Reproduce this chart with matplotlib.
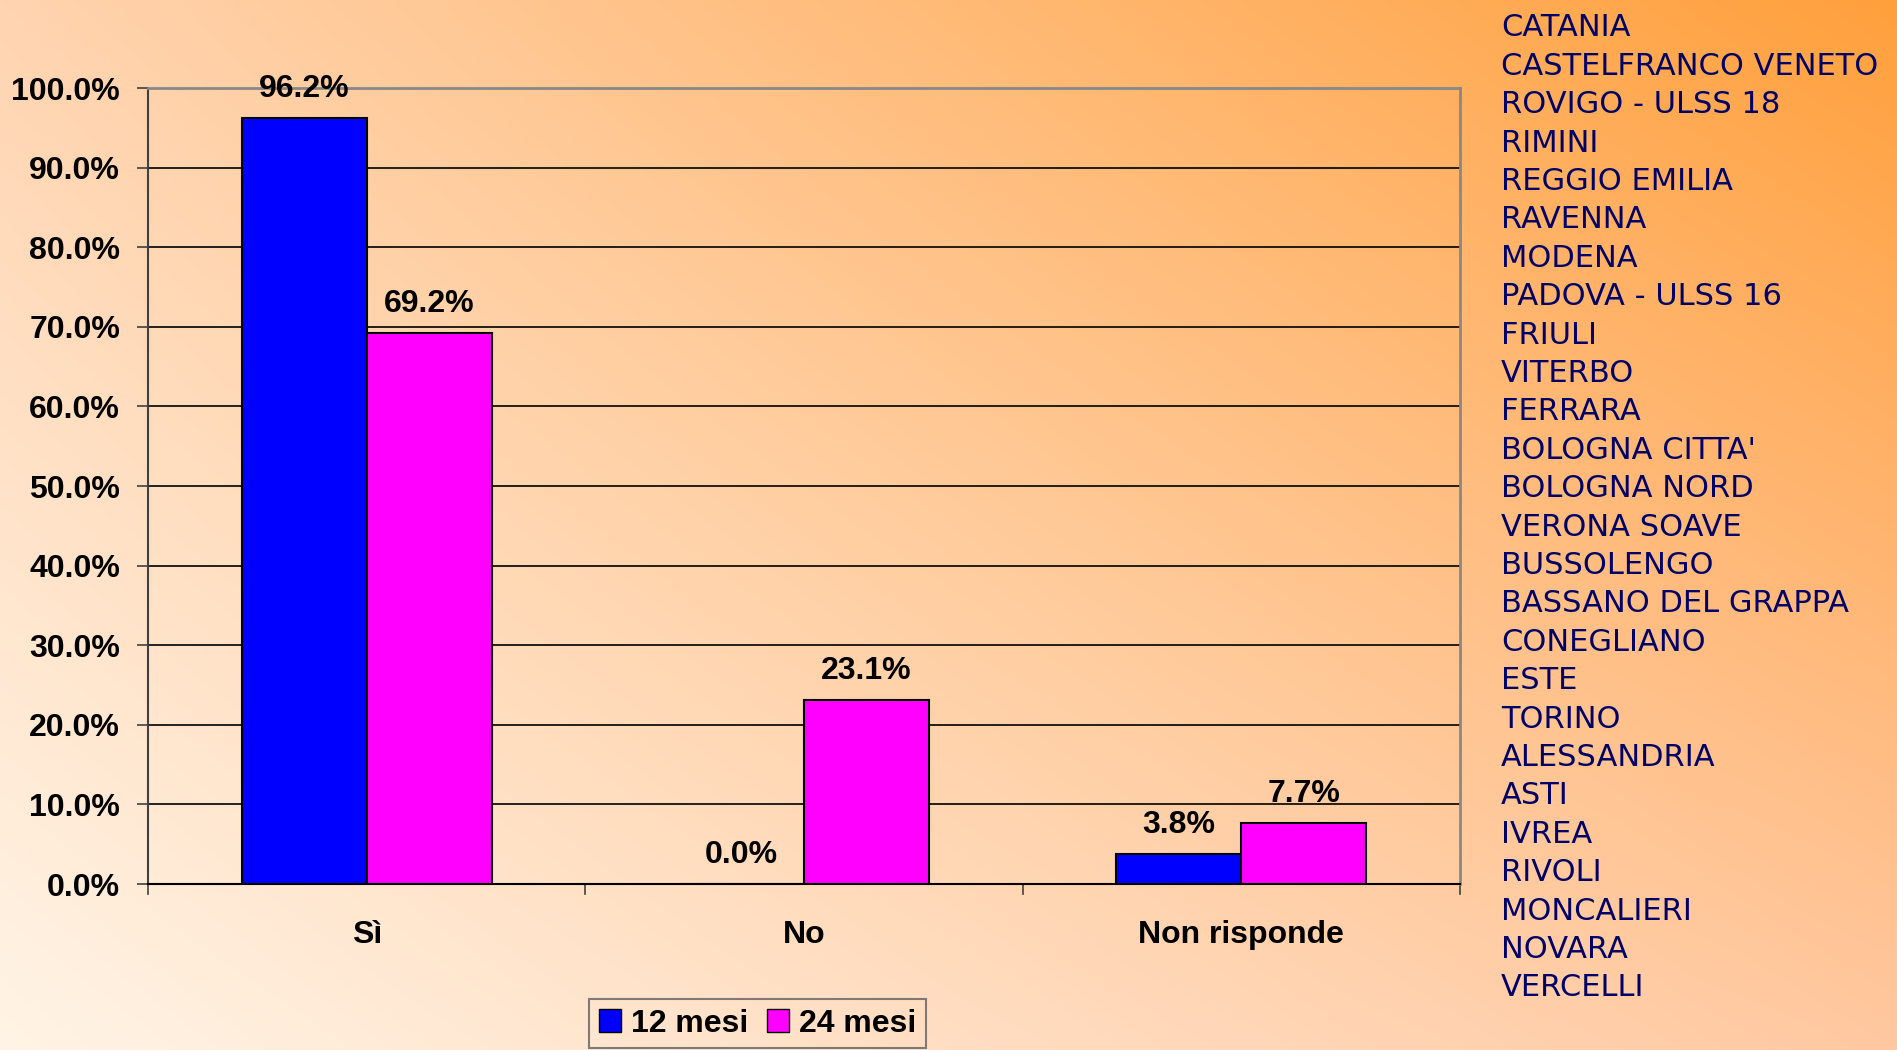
import numpy as np
import matplotlib.pyplot as plt
from matplotlib.patches import Patch

categories = ["Sì", "No", "Non risponde"]
mesi_12 = [96.2, 0.0, 3.8]
mesi_24 = [69.2, 23.1, 7.7]
series_names = ["12 mesi", "24 mesi"]
yticks = [0, 10, 20, 30, 40, 50, 60, 70, 80, 90, 100]

centri = ["CATANIA", "CASTELFRANCO VENETO", "ROVIGO - ULSS 18", "RIMINI",
          "REGGIO EMILIA", "RAVENNA", "MODENA", "PADOVA - ULSS 16", "FRIULI",
          "VITERBO", "FERRARA", "BOLOGNA CITTA'", "BOLOGNA NORD", "VERONA SOAVE",
          "BUSSOLENGO", "BASSANO DEL GRAPPA", "CONEGLIANO", "ESTE", "TORINO",
          "ALESSANDRIA", "ASTI", "IVREA", "RIVOLI", "MONCALIERI", "NOVARA",
          "VERCELLI"]

BLUE = "#0000FF"
MAGENTA = "#FF00FF"
NAVY = "#000066"
FS = 23

plt.rcParams["font.family"] = ["Liberation Sans", "DejaVu Sans"]

W, H = 1897, 1050
fig = plt.figure(figsize=(W / 100, H / 100), dpi=100)

# background: four-corner gradient
tl = np.array([255, 212, 176]) / 255
tr = np.array([255, 160, 60]) / 255
bl = np.array([255, 244, 230]) / 255
br = np.array([255, 200, 160]) / 255
u = np.linspace(0, 1, 400)[None, :, None]
v = np.linspace(0, 1, 220)[:, None, None]
top = tl * (1 - u) + tr * u
bot = bl * (1 - u) + br * u
grad = top * (1 - v) + bot * v
bg = fig.add_axes([0, 0, 1, 1])
bg.imshow(grad, aspect="auto", extent=[0, 1, 0, 1], interpolation="bilinear")
bg.axis("off")

ax = fig.add_axes([148 / W, 1 - 884 / H, (1460 - 148) / W, (884 - 88) / H])
ax.patch.set_alpha(0)

x = np.arange(len(categories))
w = 0.286
b1 = ax.bar(x - w / 2, mesi_12, w, color=BLUE, edgecolor="black", linewidth=1.5)
b2 = ax.bar(x + w / 2, mesi_24, w, color=MAGENTA, edgecolor="black", linewidth=1.5)

for bars, vals in [(b1, mesi_12), (b2, mesi_24)]:
    for r, v in zip(bars, vals):
        ax.annotate(f"{v:.1f}%", (r.get_x() + r.get_width() / 2, v),
                    xytext=(0, 10), textcoords="offset points",
                    ha="center", va="bottom", fontsize=FS, fontweight="bold")

ax.set_xlim(-0.5, len(categories) - 0.5)
ax.set_ylim(0, 100)
ax.set_yticks(yticks)
ax.set_yticklabels([f"{t:.1f}%" for t in yticks], fontsize=FS, fontweight="bold")
ax.yaxis.grid(True, color="black", linewidth=1.2)
ax.set_axisbelow(True)

ax.set_xticks(x)
ax.set_xticklabels(categories, fontsize=FS, fontweight="bold")
ax.tick_params(axis="x", length=0, pad=26)
ax.tick_params(axis="y", length=8, width=1.2, color="#404040", pad=12)
for b in [-0.5, 0.5, 1.5, 2.5]:
    ax.plot([b, b], [0, -1.3], color="#404040", lw=1.2, clip_on=False)

ax.spines["left"].set_color("#404040")
ax.spines["left"].set_linewidth(1.5)
ax.spines["bottom"].set_color("black")
ax.spines["bottom"].set_linewidth(1.5)
ax.spines["top"].set_color("#888888")
ax.spines["top"].set_linewidth(2)
ax.spines["right"].set_color("#888888")
ax.spines["right"].set_linewidth(2)

handles = [Patch(facecolor=BLUE, edgecolor="black"),
           Patch(facecolor=MAGENTA, edgecolor="black")]
leg = fig.legend(handles, series_names, loc="upper left",
                 bbox_to_anchor=(589 / W, 1 - 999 / H),
                 ncol=2, prop={"weight": "bold", "size": FS},
                 frameon=True, fancybox=False, handlelength=0.7,
                 handleheight=0.7, handletextpad=0.3, columnspacing=0.6,
                 borderpad=0.3, borderaxespad=0)
leg.get_frame().set_edgecolor("#606060")
leg.get_frame().set_facecolor("none")
leg.get_frame().set_linewidth(1.5)

y0 = 28
step = 38.4
for i, name in enumerate(centri):
    fig.text(1501 / W, 1 - (y0 + i * step) / H, name, color=NAVY,
             fontsize=22, va="center", ha="left", family="DejaVu Sans")

fig.savefig("out.png", dpi=100)
